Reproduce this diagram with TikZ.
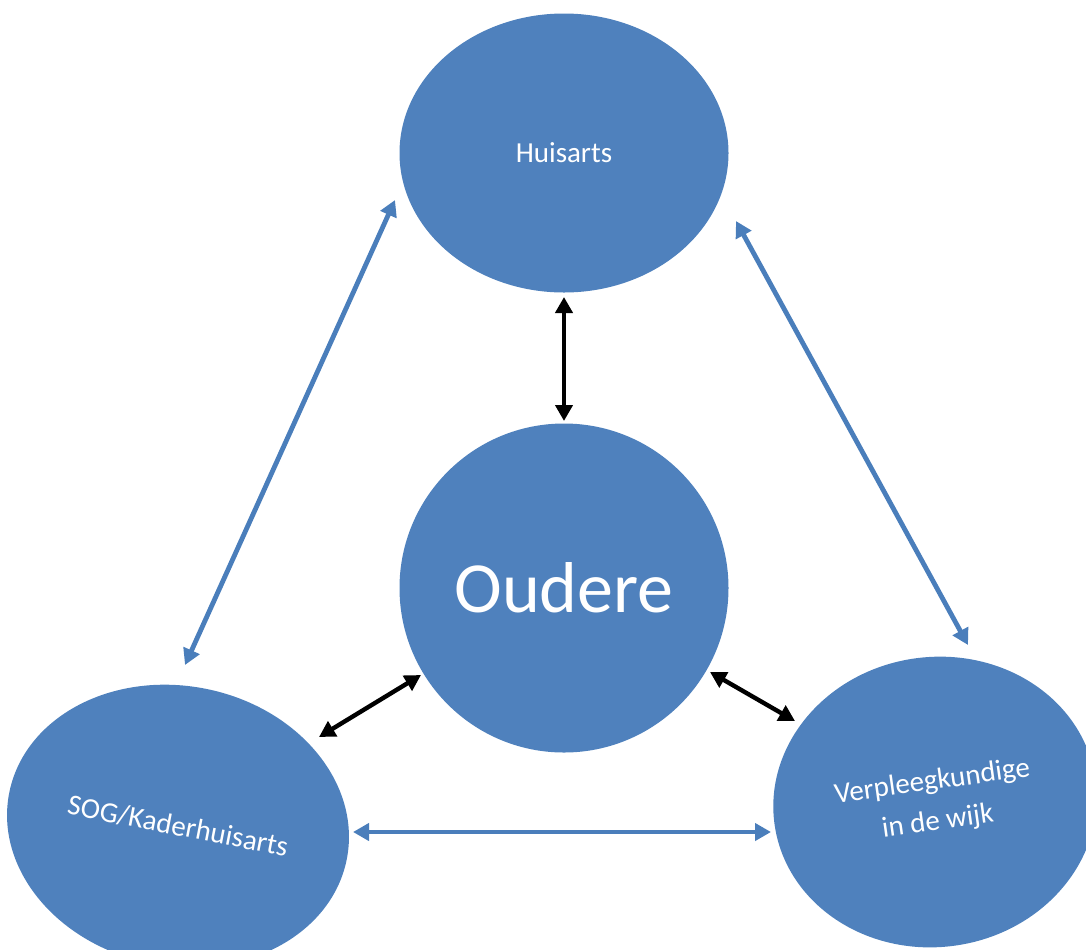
\documentclass[tikz,border=0pt]{standalone}
\usepackage{fontspec}
\setmainfont{Carlito}
\usetikzlibrary{shapes.geometric,arrows.meta}

\definecolor{nodeblue}{HTML}{4F81BD}
\definecolor{linkblue}{HTML}{4A7EBB}

\begin{document}
\begin{tikzpicture}[
	x=0.5pt, y=-0.5pt,
	actor/.style={
		ellipse,
		fill=nodeblue,
		text=white,
		inner sep=0pt,
		align=center,
		font=\fontsize{14.5}{20}\selectfont
	},
	link/.style={
		draw=linkblue,
		line width=2.4pt,
		{Triangle[length=8pt,width=8.5pt]}-{Triangle[length=8pt,width=8.5pt]}
	},
	care/.style={
		link,
		draw=black,
		line width=2.2pt
	}
]
\useasboundingbox (0,0) rectangle (1086,949);

% Actors
\node [actor, minimum width=164.5pt, minimum height=139.5pt] (Huisarts) at (564,153) {Huisarts};
\node [actor, minimum width=164.5pt, minimum height=164.5pt, font=\fontsize{36}{40}\selectfont] (Oudere) at (564,588) {Oudere};
\node [actor, minimum width=172pt, minimum height=140pt, rotate=-11] (SOG) at (178,826) {SOG/Kaderhuisarts};
\node [actor, minimum width=162pt, minimum height=145pt, rotate=8] (Wijk) at (935,802) {Verpleegkundige\\in de wijk};

% Link ends
\coordinate (HuL) at (395,200);
\coordinate (SogT) at (185,665);
\coordinate (HuR) at (736,221);
\coordinate (WijkT) at (968,645);
\coordinate (SogR) at (353,832);
\coordinate (WijkL) at (771,832);
\coordinate (HuB) at (564,297);
\coordinate (OuT) at (564,421);
\coordinate (OuL) at (421,675);
\coordinate (SogC) at (319,737);
\coordinate (OuR) at (710,672);
\coordinate (WijkC) at (795,721);

% Links between the actors
\draw [link] (HuL) -- (SogT);
\draw [link] (HuR) -- (WijkT);
\draw [link] (SogR) -- (WijkL);

% Links with Oudere
\draw [care] (HuB) -- (OuT);
\draw [care] (OuL) -- (SogC);
\draw [care] (OuR) -- (WijkC);

\end{tikzpicture}
\end{document}
